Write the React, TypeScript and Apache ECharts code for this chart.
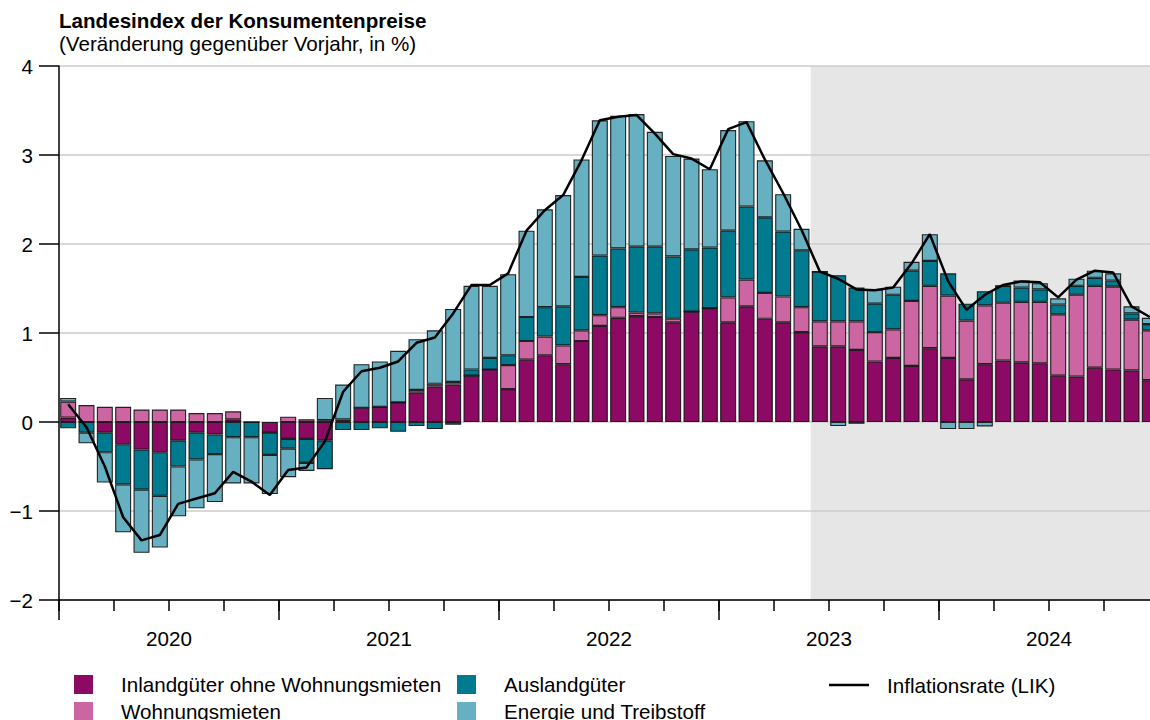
import React, { useEffect, useRef } from 'react';
import * as echarts from 'echarts';

const YEARS = ['2020', '2021', '2022', '2023', '2024'];
const MONTHS = ['01', '02', '03', '04', '05', '06', '07', '08', '09', '10', '11', '12'];
const CATEGORIES = YEARS.flatMap((y) => MONTHS.map((m) => `${y}-${m}`));

const SERIES_NAMES = [
  'Inlandgüter ohne Wohnungsmieten',
  'Wohnungsmieten',
  'Auslandgüter',
  'Energie und Treibstoff',
];
const LINE_NAME = 'Inflationsrate (LIK)';

const INLAND = [
  0.05, 0.0, -0.12, -0.25, -0.31, -0.34, -0.21, -0.12, -0.14, 0.03, 0.0, -0.12,
  -0.19, -0.19, -0.21, 0.01, 0.16, 0.17, 0.22, 0.33, 0.40, 0.42, 0.52, 0.59,
  0.37, 0.70, 0.75, 0.65, 0.91, 1.08, 1.17, 1.19, 1.18, 1.12, 1.24, 1.28,
  1.12, 1.30, 1.16, 1.12, 1.01, 0.85, 0.85, 0.81, 0.68, 0.72, 0.63, 0.83,
  0.72, 0.48, 0.65, 0.69, 0.67, 0.66, 0.52, 0.51, 0.61, 0.59, 0.58, 0.47,
];
const MIETEN = [
  0.18, 0.19, 0.17, 0.17, 0.14, 0.14, 0.14, 0.10, 0.10, 0.09, 0.0, 0.0,
  0.06, 0.03, 0.02, 0.02, 0.0, 0.0, 0.0, 0.03, 0.03, 0.03, 0.0, 0.0,
  0.27, 0.21, 0.21, 0.21, 0.12, 0.12, 0.12, 0.04, 0.04, 0.04, 0.0, 0.0,
  0.28, 0.30, 0.29, 0.29, 0.28, 0.28, 0.28, 0.32, 0.33, 0.32, 0.73, 0.70,
  0.70, 0.66, 0.66, 0.65, 0.68, 0.69, 0.69, 0.92, 0.92, 0.93, 0.57, 0.56,
];
const AUSLAND = [
  -0.07, -0.12, -0.22, -0.45, -0.45, -0.49, -0.29, -0.30, -0.22, -0.17, -0.17, -0.25,
  -0.11, -0.27, -0.32, -0.09, -0.09, -0.07, -0.11, -0.045, -0.08, -0.03, 0.07, 0.13,
  0.11, 0.27, 0.33, 0.44, 0.60, 0.67, 0.66, 0.74, 0.75, 0.70, 0.70, 0.68,
  0.75, 0.82, 0.85, 0.73, 0.64, 0.56, 0.52, 0.38, 0.32, 0.39, 0.34, 0.28,
  0.25, 0.19, 0.16, 0.19, 0.16, 0.14, 0.11, 0.10, 0.09, 0.07, 0.07, 0.07,
];
const ENERGIE = [
  0.04, -0.12, -0.34, -0.54, -0.71, -0.58, -0.56, -0.55, -0.54, -0.52, -0.52, -0.44,
  -0.32, -0.09, 0.25, 0.39, 0.49, 0.51, 0.58, 0.57, 0.60, 0.82, 0.94, 0.81,
  0.91, 0.97, 1.10, 1.25, 1.32, 1.52, 1.49, 1.49, 1.29, 1.13, 1.02, 0.88,
  1.13, 0.96, 0.64, 0.42, 0.24, 0.0, -0.045, -0.02, 0.16, 0.09, 0.10, 0.30,
  -0.08, -0.08, -0.05, 0.0, 0.08, 0.07, 0.07, 0.08, 0.08, 0.08, 0.08, 0.07,
];
const LIK = [
  0.20, -0.06, -0.50, -1.07, -1.33, -1.27, -0.92, -0.86, -0.80, -0.56, -0.67, -0.82,
  -0.54, -0.51, -0.22, 0.34, 0.57, 0.61, 0.68, 0.89, 0.95, 1.22, 1.54, 1.54,
  1.67, 2.15, 2.38, 2.55, 2.94, 3.39, 3.43, 3.45, 3.24, 3.01, 2.96, 2.84,
  3.29, 3.37, 2.95, 2.57, 2.16, 1.69, 1.61, 1.49, 1.48, 1.51, 1.78, 2.11,
  1.58, 1.26, 1.43, 1.54, 1.58, 1.57, 1.40, 1.60, 1.70, 1.68, 1.30, 1.18,
];

const SHADE_START = '2023-06';

const COLORS = ['#8c0a64', '#cc66a3', '#007a8f', '#66b0c2'];
const FONT = '"Liberation Sans", Arial, Helvetica, sans-serif';
const FS = 20.6;

export default function App() {
  const ref = useRef<HTMLDivElement>(null);

  useEffect(() => {
    if (!ref.current) return;
    const chart = echarts.init(ref.current, undefined, { renderer: 'svg' });
    const values = [INLAND, MIETEN, AUSLAND, ENERGIE];
    const shadeStart = CATEGORIES.indexOf(SHADE_START);

    const barSeries = SERIES_NAMES.map((name, i) => ({
      name,
      type: 'bar',
      stack: 'total',
      xAxisIndex: 0,
      yAxisIndex: 0,
      barWidth: 16,
      data: values[i],
      itemStyle: {
        color: COLORS[i],
        borderColor: 'rgba(15,15,15,0.9)',
        borderWidth: 1.1,
      },
      z: 3,
    }));

    const textStyle = {
      fontSize: FS,
      color: '#000',
      fontFamily: FONT,
      lineHeight: 19,
      padding: [0, 0, 0, 23],
    };

    const legendBase = {
      orient: 'vertical',
      top: 674,
      height: 60,
      padding: 0,
      itemGap: 6,
      itemWidth: 19,
      itemHeight: 19,
      selectedMode: false,
      textStyle,
    };

    chart.setOption({
      animation: false,
      textStyle: { fontFamily: FONT },
      title: [
        {
          text: 'Landesindex der Konsumentenpreise',
          left: 59,
          top: 10,
          padding: 0,
          textStyle: { fontSize: FS, fontWeight: 'bold', color: '#000', fontFamily: FONT },
        },
        {
          text: '(Veränderung gegenüber Vorjahr, in %)',
          left: 59,
          top: 33,
          padding: 0,
          textStyle: { fontSize: FS, fontWeight: 'normal', color: '#000', fontFamily: FONT },
        },
      ],
      legend: [
        {
          ...legendBase,
          left: 74,
          icon: 'rect',
          itemStyle: { borderWidth: 0 },
          data: [SERIES_NAMES[0], SERIES_NAMES[1]],
        },
        {
          ...legendBase,
          left: 457,
          icon: 'rect',
          itemStyle: { borderWidth: 0 },
          data: [SERIES_NAMES[2], SERIES_NAMES[3]],
        },
        {
          ...legendBase,
          left: 829,
          top: 674.5,
          itemWidth: 40,
          itemHeight: 2.5,
          icon: 'rect',
          itemStyle: { borderWidth: 0, color: '#000' },
          textStyle: { ...textStyle, padding: [0, 0, 0, 13] },
          data: [LINE_NAME],
        },
      ],
      grid: { left: 59, right: 0, top: 66, bottom: 120, containLabel: false },
      xAxis: [
        {
          type: 'category',
          data: CATEGORIES,
          position: 'bottom',
          boundaryGap: true,
          axisLine: { show: true, onZero: false, lineStyle: { color: '#000', width: 1.5 } },
          axisTick: { show: true, interval: 2, length: 11, lineStyle: { color: '#000', width: 1.5 } },
          axisLabel: { show: false },
          splitLine: { show: false },
        },
        {
          type: 'category',
          data: CATEGORIES,
          position: 'bottom',
          boundaryGap: true,
          axisLine: { show: false, onZero: false },
          axisTick: { show: true, interval: 11, length: 20, lineStyle: { color: '#000', width: 1.5 } },
          axisLabel: { show: false },
          splitLine: { show: false },
        },
        {
          type: 'category',
          data: YEARS,
          position: 'bottom',
          boundaryGap: true,
          axisLine: { show: false, onZero: false },
          axisTick: { show: false },
          axisLabel: { show: true, margin: 28, fontSize: FS, color: '#000', fontFamily: FONT },
          splitLine: { show: false },
        },
        {
          type: 'value',
          min: 0,
          max: CATEGORIES.length,
          show: false,
          axisLine: { onZero: false },
        },
      ],
      yAxis: {
        type: 'value',
        min: -2,
        max: 4,
        interval: 1,
        position: 'left',
        axisLine: { show: true, onZero: false, lineStyle: { color: '#000', width: 1.5 } },
        axisTick: { show: true, length: 20, lineStyle: { color: '#000', width: 1.5 } },
        axisLabel: {
          margin: 26,
          fontSize: FS,
          color: '#000',
          fontFamily: FONT,
          formatter: (v: number) => (v < 0 ? '\u2212' + Math.abs(v) : String(v)),
        },
        splitLine: { show: true, lineStyle: { color: '#cccccc', width: 1.5 } },
      },
      series: [
        {
          name: 'shade',
          type: 'line',
          xAxisIndex: 3,
          yAxisIndex: 0,
          data: [],
          silent: true,
          z: -1,
          markArea: {
            silent: true,
            z: -1,
            itemStyle: { color: '#e6e6e6' },
            data: [[{ xAxis: shadeStart }, { xAxis: CATEGORIES.length }]],
          },
        },
        ...barSeries,
        {
          name: LINE_NAME,
          type: 'line',
          xAxisIndex: 0,
          yAxisIndex: 0,
          data: LIK,
          symbol: 'none',
          showSymbol: false,
          lineStyle: { color: '#000', width: 2.5 },
          itemStyle: { color: '#000' },
          z: 5,
        },
      ],
    });

    return () => chart.dispose();
  }, []);

  return (
    <div
      style={{
        position: 'absolute',
        left: 0,
        top: 0,
        width: 1150,
        height: 720,
        overflow: 'hidden',
        background: '#fff',
      }}
    >
      <div ref={ref} style={{ width: 1159, height: 720 }} />
    </div>
  );
}
